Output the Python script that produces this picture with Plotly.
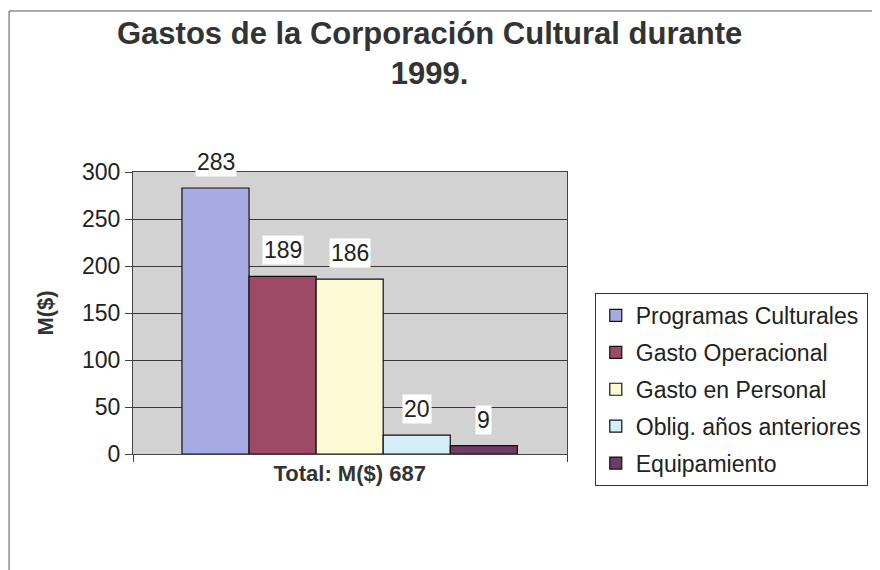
import plotly.graph_objects as go

# data (millions of pesos, 1999)
series_names = [
    "Programas Culturales",
    "Gasto Operacional",
    "Gasto en Personal",
    "Oblig. años anteriores",
    "Equipamiento",
]
series_values = [283, 189, 186, 20, 9]
series_colors = ["#a7abe3", "#9c4a66", "#fbfad5", "#d3eef7", "#6e3b62"]
category_label = "Total: M($) 687"
y_ticks = [0, 50, 100, 150, 200, 250, 300]
chart_title = "Gastos de la Corporación Cultural durante<br>1999."

FONT = "Liberation Sans, Arial, sans-serif"

fig = go.Figure()

for i, (name, val, col) in enumerate(zip(series_names, series_values, series_colors)):
    fig.add_trace(go.Bar(
        x=[i],
        y=[val],
        name=name,
        width=1,
        legendgroup=name,
        marker=dict(color=col, line=dict(color="#111111", width=1.2)),
        hoverinfo="name+y",
    ))
    # value label in a white box above each bar
    fig.add_annotation(
        x=i, y=val, xref="x", yref="y",
        text=str(val),
        showarrow=False,
        yanchor="middle",
        yshift=26,
        bgcolor="white",
        font=dict(family=FONT, size=23, color="#222222"),
    )

# chart title
fig.add_annotation(
    x=0.684, y=1.42, xref="paper", yref="paper",
    text=chart_title, showarrow=False,
    xanchor="center", yanchor="middle",
    font=dict(family=FONT, size=31, color="#333333", weight="bold"),
)

# scanned page frame (left and top edges)
fig.add_shape(type="line", xref="paper", yref="paper",
              x0=-0.2856, y0=-0.42, x1=-0.2856, y1=1.571,
              line=dict(color="#555555", width=1))
fig.add_shape(type="line", xref="paper", yref="paper",
              x0=-0.2856, y0=1.571, x1=1.95, y1=1.571,
              line=dict(color="#555555", width=1))

fig.update_layout(
    width=872,
    height=562,
    margin=dict(l=125, r=311, t=164, b=116),
    paper_bgcolor="white",
    plot_bgcolor="#d2d2d2",
    font=dict(family=FONT, size=23, color="#222222"),
    showlegend=True,
    legend=dict(
        x=1.064, y=0.571, xanchor="left", yanchor="top",
        bgcolor="white",
        bordercolor="#333333",
        borderwidth=1,
        traceorder="grouped",
        tracegroupgap=4,
        itemwidth=30,
        font=dict(family=FONT, size=23, color="#222222"),
    ),
    xaxis=dict(
        range=[-1.23, 5.24],
        tickvals=[2],
        ticktext=[category_label],
        tickfont=dict(family=FONT, size=22, color="#333333", weight="bold"),
        ticks="",
        showgrid=False,
        zeroline=False,
        showline=True,
        linecolor="#444444",
        linewidth=1,
        mirror=True,
        minor=dict(tickvals=[-1.23, 5.24], ticks="outside", ticklen=7,
                   tickcolor="#444444", showgrid=False),
    ),
    yaxis=dict(
        range=[0, 300],
        tickvals=y_ticks,
        ticks="outside",
        ticklen=7,
        tickcolor="#444444",
        tickfont=dict(family=FONT, size=23, color="#222222"),
        showgrid=True,
        gridcolor="#3a3a3a",
        gridwidth=1,
        zeroline=False,
        showline=True,
        linecolor="#444444",
        linewidth=1,
        mirror=True,
        title=dict(text="M($)", standoff=22,
                   font=dict(family=FONT, size=22, color="#333333", weight="bold")),
    ),
)

fig.write_html("out.html")
